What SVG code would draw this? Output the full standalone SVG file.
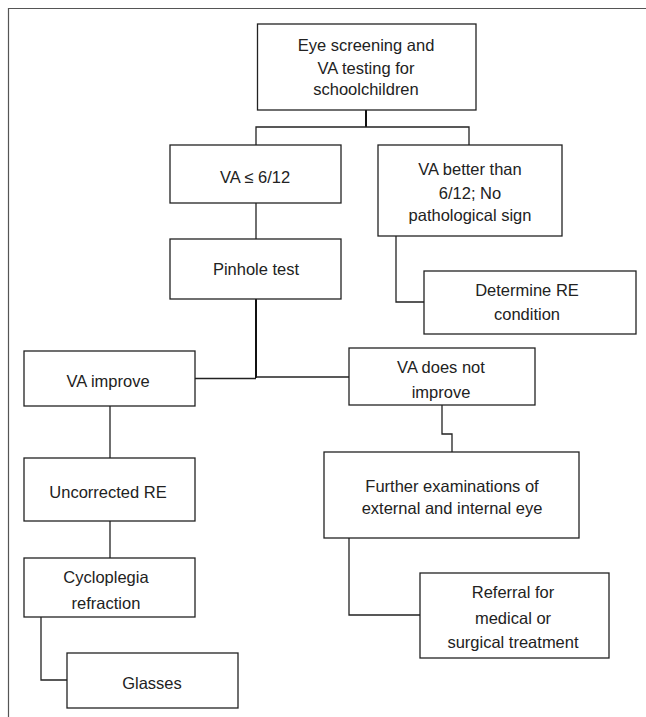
<svg xmlns="http://www.w3.org/2000/svg" width="646" height="717" viewBox="0 0 646 717">
<style>
rect.box{fill:#fff;stroke:#222;stroke-width:1.3}
text{font-family:"Liberation Sans",Arial,sans-serif;font-size:16.5px;fill:#222;text-anchor:middle}
.c{fill:none;stroke:#222;stroke-width:1.3}
.t{fill:none;stroke:#111;stroke-width:2}
</style>
<rect width="646" height="717" fill="#fff"/>
<path d="M8.5,717 V8.5 H646" fill="none" stroke="#555" stroke-width="1.2"/>
<g id="connectors">
<path class="t" d="M366,110 V127"/>
<path class="c" d="M256,145 V127 H469 V145"/>
<path class="c" d="M256,203 V239"/>
<path class="c" d="M396,236 V302 H424"/>
<path class="t" d="M256,299 V378"/>
<path class="c" d="M195,378.5 H256"/>
<path class="c" d="M256,377 H349"/>
<path class="c" d="M442,405 V434 H452 V452"/>
<path class="c" d="M110,406 V458"/>
<path class="c" d="M110,521 V558"/>
<path class="c" d="M41,617 V680 H67"/>
<path class="c" d="M349,538 V615 H420"/>
</g>
<g id="n1"><rect class="box" x="257.5" y="24" width="218.5" height="86"/>
<text x="366" y="51">Eye screening and</text><text x="366" y="74">VA testing for</text><text x="366" y="95">schoolchildren</text></g>
<g id="n2"><rect class="box" x="170" y="145" width="171" height="58"/>
<text x="255" y="183">VA ≤ 6/12</text></g>
<g id="n3"><rect class="box" x="378" y="145" width="184" height="91"/>
<text x="470" y="175">VA better than</text><text x="470" y="199">6/12; No</text><text x="470" y="221">pathological sign</text></g>
<g id="n4"><rect class="box" x="170" y="239" width="171" height="60"/>
<text x="256" y="275">Pinhole test</text></g>
<g id="n5"><rect class="box" x="424" y="271" width="212" height="63"/>
<text x="527" y="296">Determine RE</text><text x="527" y="320">condition</text></g>
<g id="n6"><rect class="box" x="24" y="351" width="171" height="55"/>
<text x="108" y="387">VA improve</text></g>
<g id="n7"><rect class="box" x="349" y="348" width="186" height="57"/>
<text x="441" y="373">VA does not</text><text x="441" y="398">improve</text></g>
<g id="n8"><rect class="box" x="24" y="458" width="171" height="63"/>
<text x="108" y="498">Uncorrected RE</text></g>
<g id="n9"><rect class="box" x="324" y="452" width="255" height="86"/>
<text x="452" y="492">Further examinations of</text><text x="452" y="514">external and internal eye</text></g>
<g id="n10"><rect class="box" x="24" y="558" width="171" height="59"/>
<text x="106" y="583">Cycloplegia</text><text x="106" y="609">refraction</text></g>
<g id="n11"><rect class="box" x="420" y="573" width="189" height="85"/>
<text x="513" y="598">Referral for</text><text x="513" y="624">medical or</text><text x="513" y="648">surgical treatment</text></g>
<g id="n12"><rect class="box" x="67" y="653" width="171" height="55"/>
<text x="152" y="689">Glasses</text></g>
</svg>
